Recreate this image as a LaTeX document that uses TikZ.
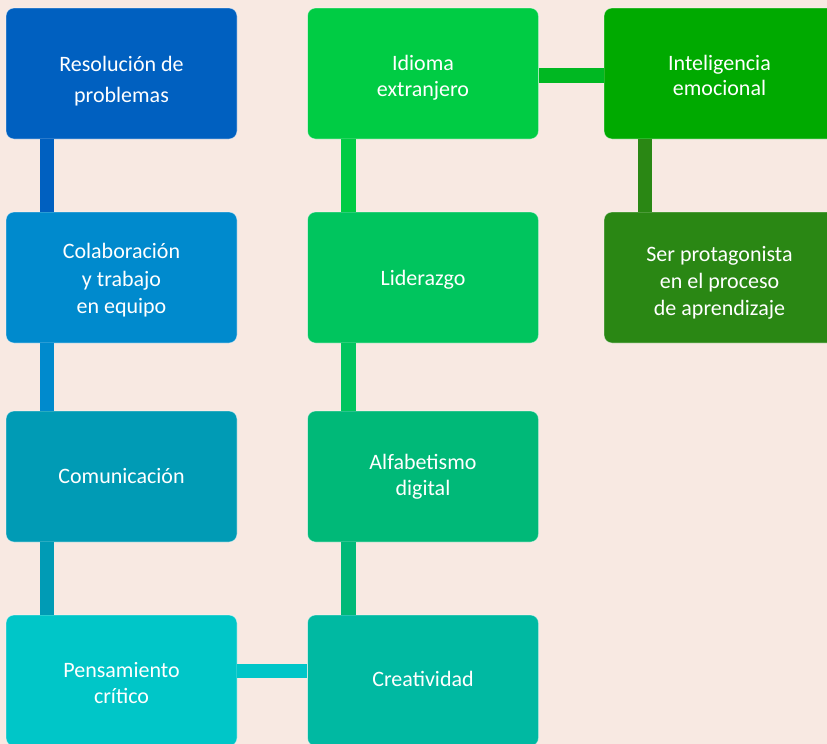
\documentclass[tikz,border=0pt]{standalone}
\usepackage{fontspec}
\setmainfont{Carlito}
\usetikzlibrary{calc}

\definecolor{paper}{HTML}{F8E9E2}
\definecolor{resolcol}{HTML}{0060C0}
\definecolor{colabcol}{HTML}{008ACD}
\definecolor{comuncol}{HTML}{009BB5}
\definecolor{pensacol}{HTML}{00C6C8}
\definecolor{creatcol}{HTML}{00B9A2}
\definecolor{alfabcol}{HTML}{00B978}
\definecolor{lidercol}{HTML}{00C55E}
\definecolor{idiomcol}{HTML}{00CC44}
\definecolor{intelcol}{HTML}{00AA00}
\definecolor{protacol}{HTML}{2A8714}
\definecolor{bridgecol}{HTML}{00B822}

\begin{document}
\begin{tikzpicture}[x=1pt,y=-1pt,
    card/.style={draw=white,draw opacity=0.45,line width=0.8pt,rounded corners=8pt,
      minimum width=231pt,minimum height=131pt,inner sep=0pt},
    cardtext/.style={align=center,inner sep=0pt,text=white,
      font=\fontsize{22}{27.5}\selectfont},
    link/.style={line width=14.5pt}]
  \newcommand{\offx}{41.5}

  \fill[paper] (0,0) rectangle (827,744);
  \clip (0,0) rectangle (827,744);

  % the ten cards, column by column (last field nudges the text down)
  \foreach \name/\x/\y/\colour/\label/\dy in {
      resol/121.5/73.5/resolcol/{Resolución de\\[3.5pt]problemas}/8,
      colab/121.5/277.5/colabcol/{Colaboración\\y trabajo\\en equipo}/3,
      comun/121.5/476.5/comuncol/{Comunicación}/0,
      pensa/121.5/680.5/pensacol/{Pensamiento\\[-1.5pt]crítico}/2.5,
      idiom/423/73.5/idiomcol/{Idioma\\[-1.5pt]extranjero}/4.5,
      lider/423/277.5/lidercol/{Liderazgo}/2,
      alfab/423/476.5/alfabcol/{Alfabetismo\\[-1.5pt]digital}/0,
      creat/423/680.5/creatcol/{Creatividad}/-2,
      intel/719.5/73.5/intelcol/{Inteligencia\\[-2.5pt]emocional}/2,
      prota/719.5/277.5/protacol/{Ser protagonista\\[-0.5pt]en el proceso\\[-0.5pt]de aprendizaje}/5.5}
  {
    \node[card,fill=\colour] (\name) at (\x,\y) {};
    \node[cardtext] (\name-txt) at ($(\name)+(0,\dy)$) {\label};
  }

  % vertical links
  \foreach \from/\to/\colour in {resol/colab/resolcol,colab/comun/colabcol,comun/pensa/comuncol,
      idiom/lider/idiomcol,lider/alfab/lidercol,alfab/creat/alfabcol,intel/prota/protacol}
    \draw[link,\colour] ($(\from.south west)+(\offx,0)$) -- ($(\to.north west)+(\offx,0)$);

  % horizontal links
  \draw[link,bridgecol] ($(idiom.east)+(0,2)$) -- ($(intel.west)+(0,2)$);
  \draw[link,pensacol] ($(pensa.east)+(0,-9.5)$) -- ($(creat.west)+(0,-9.5)$);
\end{tikzpicture}
\end{document}
